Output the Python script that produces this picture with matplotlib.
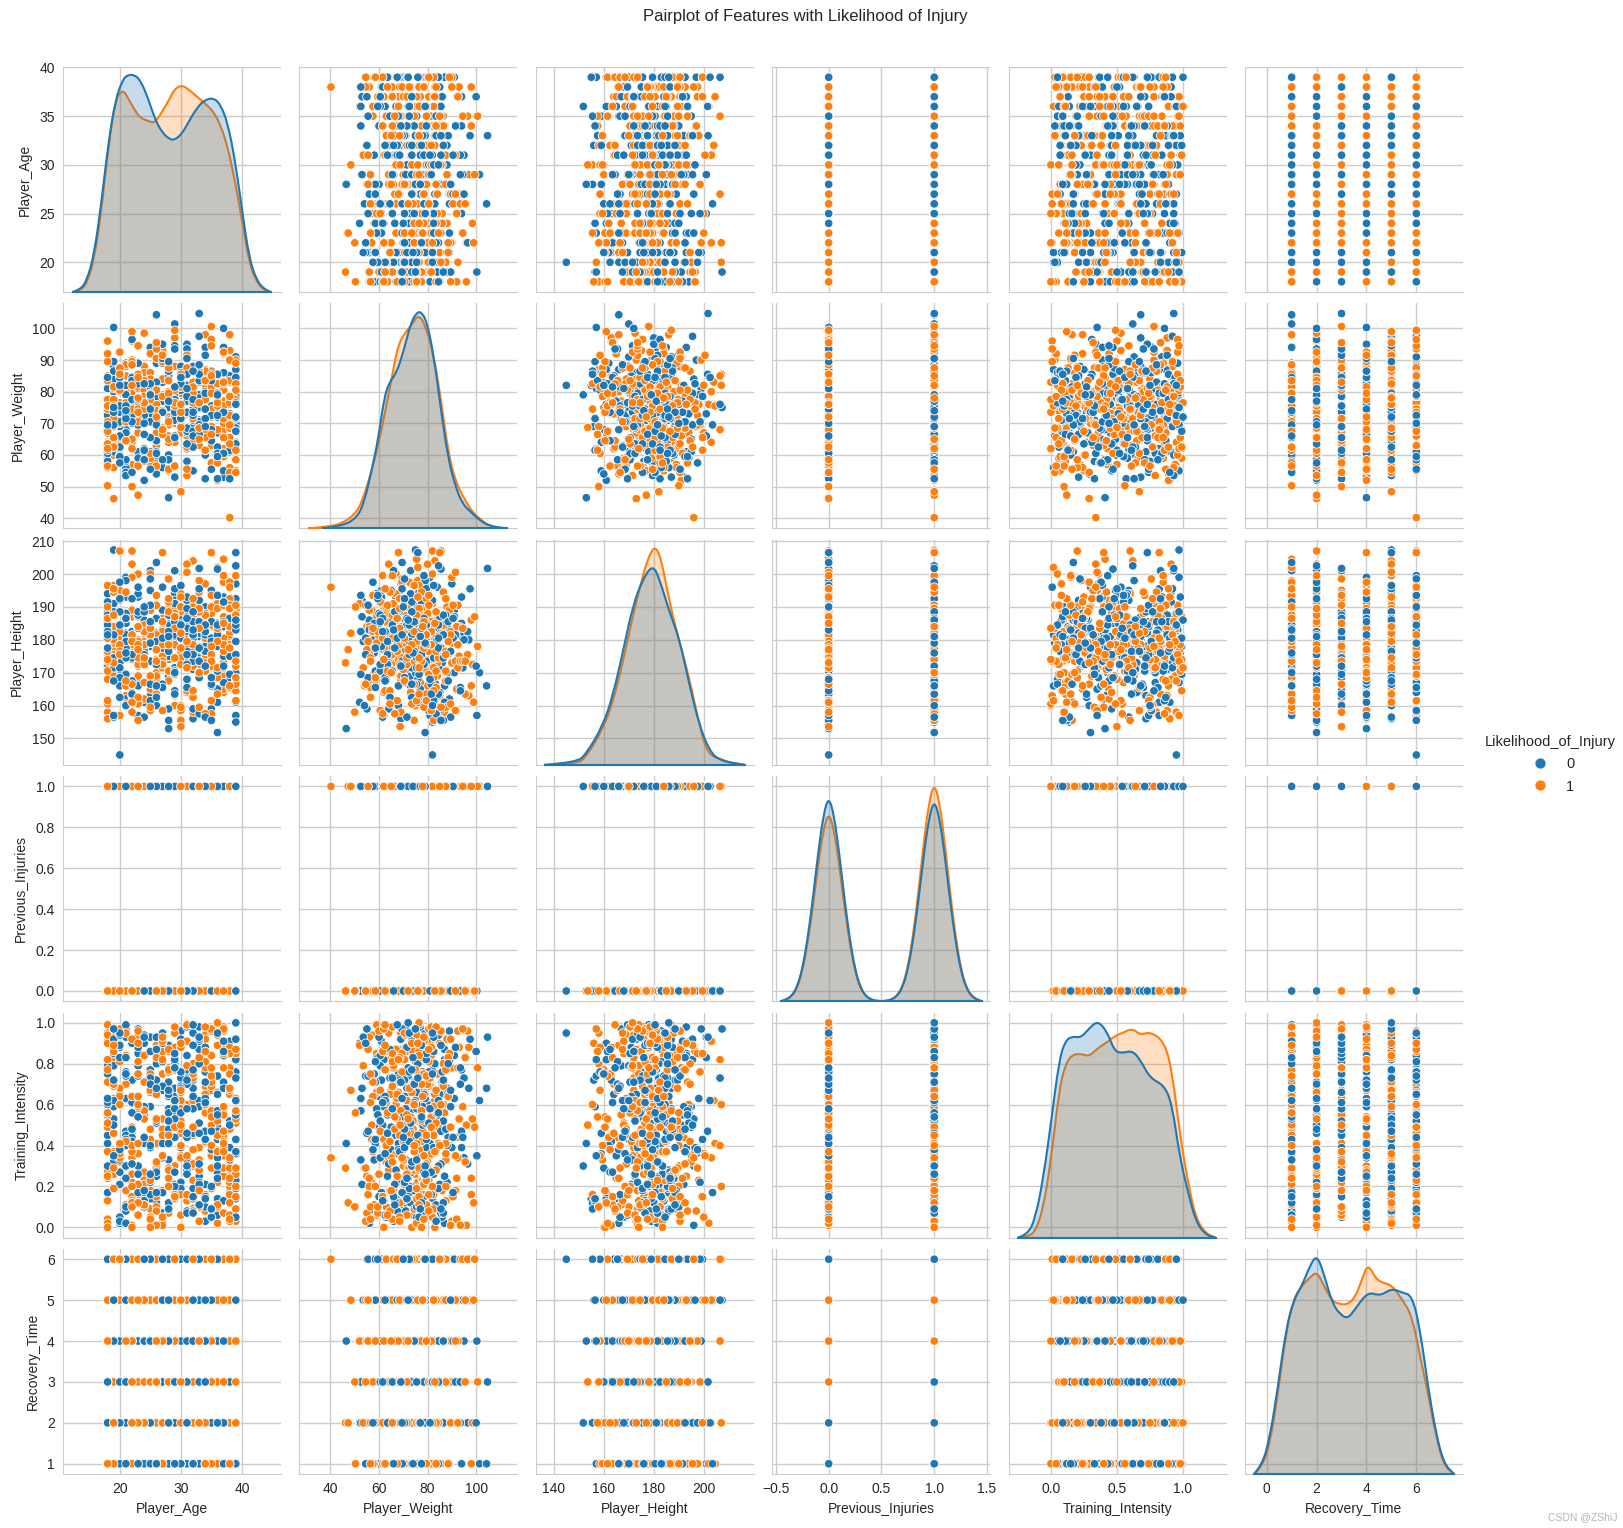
#!/usr/bin/env python
# coding=utf-8

import matplotlib
matplotlib.use('Agg')
import matplotlib.pyplot as plt
from matplotlib.lines import Line2D
from matplotlib.patches import PathPatch
from matplotlib.path import Path

plt.rcParams['font.family'] = ['Liberation Sans', 'DejaVu Sans']
plt.rcParams['text.color'] = '.15'
plt.rcParams['axes.labelcolor'] = '.15'
plt.rcParams['xtick.color'] = '.15'
plt.rcParams['ytick.color'] = '.15'

features = ['Player_Age', 'Player_Weight', 'Player_Height', 'Previous_Injuries', 'Training_Intensity', 'Recovery_Time']

# points, columns of one table
age = [
    24, 37, 32, 28, 25, 38, 24, 36, 29, 21, 33, 18, 26, 39, 34, 19, 35, 30, 27, 22,
    31, 20, 38, 23, 29, 18, 36, 25, 33, 21, 39, 28, 19, 34, 26, 37, 22, 30, 24, 32,
    27, 35, 20, 18, 31, 23, 38, 28, 25, 39, 36, 21, 29, 33, 19, 26, 34, 22, 37, 30,
    18, 24, 32, 20, 27, 35, 38, 23, 39, 31, 28, 21, 25, 36, 19, 33, 29, 18, 22, 34,
    37, 26, 30, 20, 24, 39, 32, 27, 35, 18, 23, 38, 31, 21, 28, 25, 36, 19, 33, 29,
    22, 39, 26, 34, 18, 37, 30, 20, 24, 32, 27, 35, 23, 38, 31, 21, 28, 18, 25, 36,
    19, 33, 29, 39, 22, 34, 26, 37, 30, 20, 18, 24, 32, 27, 35, 23, 38, 31, 21, 28,
    25, 39, 36, 19, 33, 18, 29, 22, 34, 26, 37, 30, 20, 24, 32, 27, 35, 23, 38, 39,
    31, 18, 21, 28, 25, 36, 19, 33, 29, 22, 34, 26, 37, 30, 20, 39, 24, 32, 18, 27,
    35, 23, 38, 31, 21, 28, 25, 36, 19, 33, 29, 22, 18, 34, 26, 37, 30, 39, 20, 24,
    32, 27, 35, 23, 38, 31, 21, 28, 18, 25, 36, 19, 33, 29, 22, 34, 39, 26, 37, 30,
    20, 24, 32, 27, 18, 35, 23, 38, 31, 21, 28, 25, 36, 19, 39, 33, 29, 22, 34, 26,
    37, 18, 30, 20, 24, 32, 27, 35, 23, 38, 31, 21, 39, 28, 25, 36, 19, 33, 18, 29,
    22, 34, 26, 37, 30, 20, 24, 32, 27, 35, 39, 23, 38, 31, 18, 21, 28, 25, 36, 19,
    33, 29, 22, 34, 26, 37, 30, 20, 24, 18, 32, 27, 35, 39, 23, 38, 31, 21, 28, 25,
    30, 19, 36, 22, 33, 27, 39, 20, 35, 24, 18, 31, 37, 21, 28, 34, 25, 38, 23, 29,
    32, 26, 20, 39, 35, 18, 24, 30, 36, 21, 27, 33, 19, 38, 22, 29, 34, 25, 37, 31,
    23, 18, 28, 32, 20, 39, 26, 35, 21, 30, 36, 24, 19, 33, 27, 38, 22, 31, 18, 34,
    25, 29, 37, 20, 23, 39, 32, 26, 35, 19, 28, 21, 36, 30, 24, 18, 33, 27, 38, 22,
    34, 31, 25, 29, 37, 20, 39, 23, 32, 26, 18, 35, 19, 28, 21, 36, 30, 24, 33, 27,
    38, 22, 34, 18, 31, 25, 29, 37, 20, 23, 39, 32, 26, 35, 19, 28, 21, 36, 30, 18,
    24, 33, 27, 38, 22, 34, 31, 25, 39, 29, 37, 20, 23, 32, 18, 26, 35, 19, 28, 21,
    36, 30, 24, 33, 27, 38, 22, 34, 31, 18, 25, 29, 37, 20, 39, 23, 32, 26, 35, 19,
    28, 21, 36, 30, 24, 33, 18, 27, 38, 22, 34, 31, 25, 39, 29, 37, 20, 23, 32, 26,
    35, 19, 18, 28, 21, 36, 30, 24, 33, 27, 38, 22, 39, 34, 31, 25, 29, 37, 20, 23,
    18, 32, 26, 35, 19, 28, 21, 36, 30, 24, 39, 33, 27, 38, 22, 34, 31, 25, 18, 29,
    37, 20, 23, 32, 26, 35, 19, 39, 28, 21, 36, 30, 24, 33, 27, 18, 38, 22, 34, 31,
    25, 29, 37, 20, 23, 39, 32, 26, 35, 19, 28, 18, 21, 36, 30, 24, 33, 27, 38, 22,
    34, 39, 31, 25, 29, 18, 37, 20, 23, 32, 26, 35, 19, 28, 21, 36, 39, 30, 24, 33,
    27, 18, 38, 22, 34, 31, 25, 29, 37, 20, 23, 39, 32, 26, 18, 35, 19, 28, 21, 36,
]
weight = [
    75, 68, 82, 71, 79, 63, 88, 74, 66, 85, 77, 59, 72, 91, 69, 80, 64, 76, 83, 57,
    73, 87, 78, 61, 70, 84, 67, 94, 75, 81, 55, 72, 65, 79, 89, 62, 77, 74, 86, 69,
    58, 80, 71, 96, 66, 83, 76, 60, 73, 90, 78, 68, 53, 85, 75, 63, 81, 70, 92, 79,
    56, 72, 87, 65, 77, 83, 61, 74, 69, 95, 80, 67, 76, 59, 84, 71, 88, 73, 64, 78,
    82, 54, 70, 86, 75, 62, 79, 93, 68, 81, 57, 73, 77, 89, 66, 84, 60, 72, 76, 97,
    65, 80, 71, 87, 58, 74, 83, 69, 78, 63, 91, 75, 67, 85, 79, 56, 72, 81, 61, 76,
    88, 70, 64, 82, 74, 94, 59, 77, 68, 86, 73, 52, 79, 84, 66, 75, 90, 62, 80, 71,
    57, 83, 76, 69, 87, 64, 78, 73, 98, 60, 81, 67, 85, 74, 55, 79, 72, 89, 65, 77,
    82, 70, 58, 75, 92, 68, 84, 63, 76, 80, 71, 54, 86, 74, 66, 78, 61, 83, 73, 95,
    69, 81, 56, 77, 88, 64, 75, 85, 60, 79, 72, 90, 67, 82, 76, 53, 74, 87, 70, 62,
    78, 84, 65, 73, 93, 58, 80, 77, 69, 86, 75, 61, 83, 71, 96, 66, 79, 74, 55, 88,
    63, 76, 81, 68, 85, 72, 59, 78, 91, 73, 65, 82, 77, 56, 70, 87, 75, 62, 80, 67,
    94, 74, 84, 60, 79, 71, 89, 57, 76, 83, 68, 72, 64, 86, 78, 52, 81, 75, 92, 66,
    73, 85, 61, 77, 69, 80, 58, 88, 74, 63, 82, 76, 90, 67, 71, 79, 55, 84, 72, 65,
    78, 97, 75, 60, 83, 70, 86, 62, 77, 73, 81, 56, 68, 89, 74, 64, 80, 76, 85, 59,
    79.5, 70.5, 62.5, 84.5, 76.5, 91.5, 67.5, 73.5, 81.5, 58.5, 77.5, 87.5, 65.5, 74.5, 69.5, 83.5, 60.5, 78.5, 71.5, 94.5,
    75.5, 56.5, 80.5, 68.5, 86.5, 63.5, 72.5, 82.5, 77.5, 54.5, 89.5, 70.5, 76.5, 65.5, 84.5, 73.5, 61.5, 79.5, 92.5, 67.5,
    81.5, 74.5, 58.5, 71.5, 85.5, 78.5, 64.5, 75.5, 88.5, 69.5, 52.5, 80.5, 73.5, 83.5, 66.5, 77.5, 96.5, 62.5, 72.5, 86.5,
    70.5, 79.5, 59.5, 76.5, 82.5, 67.5, 74.5, 90.5, 64.5, 81.5, 55.5, 75.5, 85.5, 71.5, 78.5, 60.5, 87.5, 73.5, 68.5, 83.5,
    77.5, 93.5, 65.5, 79.5, 72.5, 57.5, 84.5, 69.5, 76.5, 80.5, 62.5, 74.5, 89.5, 70.5, 53.5, 82.5, 75.5, 66.5, 86.5, 78.5,
    61.5, 73.5, 91.5, 77.5, 68.5, 81.5, 56.5, 75.5, 84.5, 71.5, 63.5, 79.5, 95.5, 72.5, 65.5, 87.5, 76.5, 59.5, 80.5, 74.5,
    83.5, 69.5, 78.5, 54.5, 88.5, 67.5, 73.5, 82.5, 61.5, 77.5, 92.5, 70.5, 85.5, 64.5, 75.5, 79.5, 57.5, 71.5, 86.5, 76.5,
    60.5, 81.5, 74.5, 97.5, 68.5, 83.5, 72.5, 65.5, 78.5, 89.5, 55.5, 75.5, 80.5, 62.5, 84.5, 70.5, 77.5, 93.5, 66.5, 73.5,
    87.5, 58.5, 79.5, 71.5, 82.5, 76.5, 63.5, 90.5, 69.5, 74.5, 52.5, 85.5, 78.5, 67.5, 81.5, 60.5, 75.5, 94.5, 72.5, 64.5,
    83.5, 77.5, 56.5, 86.5, 70.5, 79.5, 73.5, 61.5, 88.5, 68.5, 76.5, 54.5, 82.5, 74.5, 91.5, 65.5, 80.5, 71.5, 59.5, 84.5,
    75.5, 62.5, 78.5, 96.5, 69.5, 87.5, 72.5, 57.5, 81.5, 66.5, 77.5, 85.5, 73.5, 63.5, 89.5, 79.5, 53.5, 70.5, 83.5, 76.5,
    60.5, 92.5, 74.5, 67.5, 80.5, 55.5, 86.5, 71.5, 78.5, 64.5, 75.5, 82.5, 98.5, 68.5, 58.5, 84.5, 72.5, 77.5, 61.5, 90.5,
    79.5, 65.5, 73.5, 87.5, 56.5, 76.5, 81.5, 69.5, 94.5, 62.5, 83.5, 70.5, 75.5, 59.5, 85.5, 74.5, 66.5, 78.5, 52.5, 88.5,
    71.5, 80.5, 63.5, 77.5, 93.5, 67.5, 82.5, 57.5, 73.5, 86.5, 60.5, 79.5, 75.5, 89.5, 64.5, 72.5, 54.5, 84.5, 76.5, 68.5,
    91.5, 61.5, 78.5, 70.5, 83.5, 55.5, 74.5, 81.5, 65.5, 87.5, 77.5, 58.5, 73.5, 95.5, 69.5, 85.5, 62.5, 79.5, 71.5, 76.5,
]
height = [
    180, 172, 191, 176, 185, 168, 183, 178, 194, 163, 181, 187, 174, 170, 197, 179, 159, 184, 176, 189,
    182, 166, 175, 193, 178, 186, 161, 181, 172, 199, 184, 169, 177, 190, 180, 164, 187, 174, 183, 156,
    179, 195, 171, 182, 188, 167, 176, 185, 201, 173, 180, 160, 192, 178, 184, 170, 186, 175, 165, 183,
    189, 177, 158, 181, 196, 172, 179, 187, 168, 182, 174, 193, 163, 185, 178, 176, 190, 171, 203, 180,
    184, 166, 188, 173, 179, 157, 186, 175, 194, 181, 169, 183, 177, 162, 191, 178, 185, 172, 198, 180,
    174, 187, 167, 182, 176, 192, 160, 184, 179, 171, 189, 175, 200, 181, 164, 186, 178, 173, 195, 183,
    170, 177, 188, 155, 180, 185, 168, 193, 176, 182, 174, 161, 190, 179, 184, 172, 197, 178, 166, 187,
    181, 175, 202, 169, 183, 177, 191, 163, 186, 180, 173, 194, 171, 184, 159, 179, 188, 176, 182, 167,
    192, 174, 185, 178, 165, 181, 196, 170, 187, 177, 183, 160, 175, 190, 179, 172, 186, 204, 168, 180,
    184, 157, 176, 193, 182, 174, 189, 164, 178, 185, 171, 199, 181, 176, 169, 187, 183, 161, 192, 177,
    179, 173, 195, 166, 184, 180, 188, 175, 158, 182, 170, 191, 178, 186, 163, 174, 197, 181, 167, 185,
    177, 190, 172, 183, 156, 179, 194, 176, 187, 169, 180, 200, 165, 184, 175, 182, 160, 189, 178, 173,
    193, 171, 186, 181, 162, 177, 183, 168, 196, 180, 174, 188, 185, 159, 179, 191, 176, 170, 184, 201,
    164, 182, 178, 187, 173, 195, 167, 181, 175, 190, 183, 161, 179, 186, 172, 198, 177, 169, 184, 180,
    192, 163, 176, 188, 182, 171, 185, 157, 178, 194, 174, 183, 166, 189, 180, 175, 203, 168, 187, 179,
    176.5, 188.5, 169.5, 182.5, 194.5, 173.5, 179.5, 162.5, 185.5, 177.5, 191.5, 167.5, 180.5, 174.5, 198.5, 183.5, 158.5, 178.5, 187.5, 171.5,
    181.5, 165.5, 176.5, 192.5, 184.5, 172.5, 179.5, 155.5, 189.5, 175.5, 182.5, 168.5, 196.5, 177.5, 163.5, 185.5, 180.5, 173.5, 190.5, 178.5,
    160.5, 183.5, 170.5, 187.5, 176.5, 199.5, 181.5, 166.5, 179.5, 174.5, 193.5, 184.5, 171.5, 157.5, 186.5, 177.5, 182.5, 164.5, 188.5, 175.5,
    180.5, 195.5, 169.5, 178.5, 183.5, 161.5, 173.5, 190.5, 185.5, 176.5, 167.5, 181.5, 201.5, 172.5, 179.5, 187.5, 159.5, 177.5, 192.5, 174.5,
    184.5, 165.5, 180.5, 170.5, 197.5, 182.5, 175.5, 188.5, 162.5, 178.5, 185.5, 173.5, 156.5, 191.5, 179.5, 168.5, 183.5, 176.5, 194.5, 171.5,
    186.5, 160.5, 181.5, 177.5, 189.5, 166.5, 174.5, 204.5, 184.5, 172.5, 179.5, 192.5, 163.5, 180.5, 175.5, 187.5, 169.5, 182.5, 158.5, 196.5,
    178.5, 173.5, 185.5, 190.5, 167.5, 176.5, 183.5, 161.5, 199.5, 181.5, 171.5, 188.5, 177.5, 164.5, 184.5, 179.5, 193.5, 174.5, 155.5, 186.5,
    170.5, 182.5, 175.5, 195.5, 178.5, 165.5, 180.5, 187.5, 172.5, 160.5, 190.5, 183.5, 176.5, 168.5, 202.5, 179.5, 185.5, 173.5, 157.5, 181.5,
    192.5, 177.5, 163.5, 184.5, 174.5, 188.5, 170.5, 180.5, 197.5, 166.5, 182.5, 176.5, 159.5, 186.5, 178.5, 191.5, 171.5, 183.5, 175.5, 162.5,
    179.5, 194.5, 173.5, 187.5, 167.5, 181.5, 177.5, 156.5, 185.5, 172.5, 189.5, 180.5, 164.5, 176.5, 200.5, 184.5, 169.5, 178.5, 192.5, 174.5,
    161.5, 182.5, 186.5, 175.5, 195.5, 170.5, 179.5, 183.5, 158.5, 188.5, 173.5, 177.5, 166.5, 190.5, 181.5, 184.5, 171.5, 198.5, 176.5, 163.5,
    185.5, 178.5, 155.5, 180.5, 193.5, 168.5, 174.5, 187.5, 182.5, 160.5, 179.5, 196.5, 172.5, 183.5, 165.5, 177.5, 189.5, 175.5, 157.5, 186.5,
    181.5, 170.5, 191.5, 176.5, 162.5, 184.5, 178.5, 203.5, 173.5, 167.5, 188.5, 180.5, 174.5, 193.5, 159.5, 182.5, 177.5, 185.5, 169.5, 179.5,
    156.5, 190.5, 175.5, 183.5, 164.5, 186.5, 171.5, 197.5, 178.5, 181.5, 172.5, 161.5, 187.5, 176.5, 194.5, 184.5, 166.5, 180.5, 174.5, 189.5,
    158.5, 182.5, 177.5, 192.5, 170.5, 179.5, 185.5, 163.5, 199.5, 175.5, 183.5, 168.5, 188.5, 173.5, 181.5, 155.5, 195.5, 178.5, 186.5, 171.5,
]
prev_injuries = [
    0, 1, 1, 0, 1, 0, 0, 1, 0, 1, 1, 0, 1, 0, 1, 1, 0, 0, 1, 0,
    1, 0, 1, 1, 0, 0, 1, 0, 1, 1, 0, 1, 0, 0, 1, 1, 0, 1, 0, 1,
    0, 1, 1, 0, 0, 1, 0, 1, 0, 1, 1, 0, 1, 0, 0, 1, 1, 0, 1, 0,
    1, 0, 0, 1, 1, 0, 1, 1, 0, 0, 1, 0, 1, 0, 1, 1, 0, 1, 0, 0,
    1, 1, 0, 1, 0, 1, 0, 0, 1, 1, 0, 1, 0, 1, 1, 0, 0, 1, 0, 1,
    0, 1, 0, 1, 1, 0, 1, 0, 0, 1, 1, 0, 1, 0, 1, 0, 1, 1, 0, 0,
    1, 0, 1, 1, 0, 1, 0, 0, 1, 0, 1, 1, 0, 1, 0, 1, 1, 0, 0, 1,
    0, 1, 1, 0, 1, 0, 0, 1, 1, 0, 1, 0, 1, 0, 1, 1, 0, 0, 1, 0,
    1, 1, 0, 1, 0, 0, 1, 0, 1, 1, 0, 1, 0, 1, 0, 1, 1, 0, 1, 0,
    0, 1, 0, 1, 1, 0, 1, 1, 0, 0, 1, 0, 1, 0, 1, 0, 1, 1, 0, 1,
    1, 0, 1, 0, 0, 1, 1, 0, 1, 0, 1, 0, 0, 1, 1, 0, 1, 0, 1, 1,
    0, 1, 0, 1, 0, 1, 1, 0, 0, 1, 0, 1, 1, 0, 1, 0, 1, 0, 0, 1,
    1, 0, 1, 1, 0, 0, 1, 0, 1, 0, 1, 1, 0, 1, 0, 1, 0, 1, 1, 0,
    0, 1, 1, 0, 1, 0, 1, 0, 0, 1, 1, 0, 1, 1, 0, 1, 0, 0, 1, 0,
    1, 0, 1, 0, 1, 1, 0, 1, 0, 1, 0, 0, 1, 1, 0, 1, 0, 1, 1, 0,
    1, 1, 0, 0, 1, 0, 1, 1, 0, 1, 0, 0, 1, 0, 1, 1, 0, 1, 0, 1,
    0, 0, 1, 1, 0, 1, 0, 1, 1, 0, 0, 1, 0, 1, 0, 1, 1, 0, 1, 0,
    1, 0, 1, 0, 0, 1, 1, 0, 1, 1, 0, 0, 1, 0, 1, 0, 1, 1, 0, 1,
    0, 1, 1, 0, 1, 0, 0, 1, 0, 1, 1, 0, 0, 1, 1, 0, 1, 0, 1, 0,
    1, 0, 0, 1, 1, 0, 1, 0, 1, 1, 0, 1, 0, 0, 1, 0, 1, 1, 0, 1,
    0, 1, 0, 1, 0, 1, 1, 0, 0, 1, 1, 0, 1, 0, 1, 1, 0, 0, 1, 0,
    1, 1, 0, 0, 1, 0, 1, 0, 1, 1, 0, 1, 0, 1, 0, 0, 1, 1, 0, 1,
    0, 0, 1, 1, 0, 1, 1, 0, 1, 0, 0, 1, 1, 0, 1, 0, 0, 1, 1, 0,
    1, 0, 1, 0, 1, 0, 1, 1, 0, 0, 1, 1, 0, 1, 0, 1, 0, 1, 0, 1,
    1, 0, 0, 1, 0, 1, 1, 0, 1, 0, 1, 0, 1, 1, 0, 0, 1, 0, 1, 0,
    0, 1, 1, 0, 1, 1, 0, 0, 1, 0, 1, 1, 0, 1, 0, 1, 1, 0, 0, 1,
    1, 0, 1, 0, 0, 1, 0, 1, 1, 0, 1, 0, 0, 1, 1, 0, 1, 0, 1, 1,
    0, 1, 0, 1, 1, 0, 1, 0, 0, 1, 0, 1, 1, 0, 0, 1, 1, 0, 1, 0,
    1, 0, 1, 1, 0, 0, 1, 1, 0, 1, 0, 1, 0, 0, 1, 1, 0, 1, 0, 1,
    0, 1, 0, 0, 1, 1, 0, 1, 0, 1, 1, 0, 1, 0, 1, 0, 0, 1, 1, 0,
]
intensity = [
    .12, .87, .45, .33, .68, .05, .92, .27, .56, .74, .18, .99, .41, .63, .08, .81, .36, .52, .95, .22,
    .70, .02, .48, .85, .30, .61, .14, .77, .39, .97, .25, .58, .83, .10, .66, .43, .90, .19, .54, .72,
    .07, .35, .88, .50, .16, .79, .28, .64, .93, .03, .47, .75, .21, .59, .86, .32, .69, .11, .44, .96,
    .24, .55, .80, .38, .01, .67, .91, .15, .51, .73, .29, .84, .42, .06, .62, .98, .20, .57, .34, .76,
    .13, .89, .46, .65, .26, .82, .09, .53, .71, .37, .94, .17, .60, .40, .78, .04, .49, .86, .23, .68,
    .31, .92, .12, .56, .75, .44, .00, .83, .27, .64, .18, .97, .36, .52, .70, .08, .88, .41, .59, .22,
    .79, .33, .95, .14, .61, .47, .85, .25, .73, .05, .54, .90, .30, .67, .19, .81, .39, .99, .11, .58,
    .43, .76, .02, .63, .87, .28, .50, .72, .16, .93, .35, .60, .21, .84, .46, .07, .69, .96, .32, .55,
    .77, .13, .42, .89, .24, .66, .53, .10, .80, .37, .94, .29, .71, .48, .03, .83, .17, .62, .91, .34,
    .57, .74, .20, .98, .40, .86, .09, .65, .26, .51, .78, .15, .45, .92, .31, .68, .06, .82, .38, .59,
    .23, .75, .49, .12, .88, .33, .70, .56, .95, .18, .43, .85, .27, .64, .01, .79, .36, .52, .97, .22,
    .61, .10, .73, .41, .90, .29, .58, .16, .84, .47, .67, .05, .35, .93, .54, .25, .77, .13, .60, .87,
    .39, .71, .19, .96, .44, .08, .81, .50, .30, .65, .99, .24, .55, .76, .14, .89, .37, .62, .04, .83,
    .46, .21, .72, .57, .92, .32, .11, .68, .86, .40, .53, .17, .78, .28, .94, .63, .07, .48, .74, .34,
    .59, .88, .26, .15, .80, .42, .69, .97, .20, .51, .75, .02, .38, .85, .60, .31, .91, .45, .09, .66,
    .35, .72, .06, .49, .91, .18, .63, .27, .84, .41, .55, .13, .98, .30, .76, .03, .67, .22, .88, .44,
    .58, .10, .81, .37, .69, .25, .94, .16, .52, .74, .01, .46, .86, .32, .61, .20, .78, .39, .96, .08,
    .54, .28, .71, .14, .89, .43, .65, .05, .83, .34, .57, .23, .92, .11, .48, .75, .31, .99, .17, .60,
    .40, .82, .07, .68, .26, .53, .95, .15, .73, .36, .87, .02, .47, .62, .21, .79, .33, .90, .12, .56,
    .42, .70, .04, .85, .29, .64, .19, .97, .38, .51, .77, .09, .59, .24, .93, .45, .66, .13, .80, .35,
    .50, .00, .88, .27, .72, .16, .61, .41, .94, .06, .55, .31, .83, .20, .69, .48, .99, .10, .76, .37,
    .57, .22, .91, .03, .44, .65, .30, .86, .15, .53, .78, .39, .96, .08, .60, .25, .71, .46, .12, .84,
    .34, .58, .18, .92, .05, .67, .42, .81, .26, .49, .74, .14, .97, .36, .62, .21, .89, .01, .54, .32,
    .77, .43, .11, .68, .93, .28, .56, .17, .85, .40, .63, .07, .75, .23, .98, .47, .33, .59, .19, .87,
    .38, .70, .04, .52, .95, .24, .66, .13, .80, .45, .29, .90, .09, .61, .35, .73, .16, .55, .83, .41,
    .02, .64, .27, .96, .50, .20, .76, .37, .88, .11, .57, .31, .69, .06, .92, .43, .79, .22, .51, .15,
    .84, .34, .60, .99, .08, .47, .72, .26, .65, .18, .94, .39, .53, .03, .81, .30, .68, .12, .86, .44,
    .23, .58, .91, .36, .75, .05, .49, .17, .97, .62, .28, .82, .10, .55, .40, .71, .21, .93, .33, .64,
    .14, .87, .46, .00, .78, .25, .59, .38, .90, .07, .52, .74, .19, .67, .42, .95, .29, .56, .11, .83,
    .35, .61, .04, .48, .98, .16, .70, .27, .85, .41, .54, .20, .77, .32, .63, .09, .89, .45, .24, 1.00,
]
recovery = [
    4, 2, 6, 1, 5, 3, 2, 4, 6, 1, 5, 2, 3, 4, 1, 6, 2, 5, 4, 3,
    1, 5, 2, 6, 4, 3, 5, 1, 2, 4, 6, 3, 5, 2, 1, 4, 6, 2, 3, 5,
    4, 1, 6, 2, 5, 3, 4, 2, 1, 6, 5, 3, 2, 4, 1, 5, 6, 2, 4, 3,
    1, 5, 2, 4, 6, 3, 1, 5, 2, 4, 3, 6, 1, 2, 5, 4, 6, 3, 2, 1,
    5, 4, 2, 6, 3, 1, 4, 5, 2, 6, 3, 4, 1, 5, 2, 6, 4, 3, 1, 5,
    2, 4, 6, 1, 3, 5, 2, 4, 1, 6, 5, 2, 3, 4, 6, 1, 5, 2, 4, 3,
    6, 1, 5, 2, 4, 3, 2, 6, 1, 5, 4, 2, 3, 6, 5, 1, 4, 2, 5, 3,
    6, 4, 1, 2, 5, 3, 6, 4, 2, 1, 5, 3, 4, 6, 2, 5, 1, 4, 3, 2,
    6, 5, 1, 4, 2, 3, 5, 6, 1, 4, 2, 5, 3, 6, 4, 1, 2, 5, 4, 3,
    2, 6, 1, 5, 4, 3, 2, 6, 5, 1, 4, 2, 3, 5, 6, 4, 1, 2, 5, 3,
    4, 6, 2, 1, 5, 3, 4, 2, 6, 5, 1, 3, 4, 2, 5, 6, 1, 3, 4, 2,
    5, 6, 3, 1, 4, 2, 5, 3, 6, 1, 4, 2, 5, 4, 3, 6, 1, 2, 5, 4,
    3, 1, 6, 2, 4, 5, 3, 1, 2, 6, 4, 5, 2, 3, 1, 4, 6, 5, 2, 3,
    1, 4, 5, 6, 2, 3, 4, 1, 5, 2, 6, 4, 3, 1, 5, 2, 4, 6, 3, 5,
    1, 2, 4, 3, 6, 5, 1, 4, 2, 3, 5, 6, 4, 2, 1, 3, 5, 4, 2, 6,
    5, 3, 1, 6, 2, 4, 3, 5, 1, 2, 6, 4, 2, 5, 3, 1, 4, 6, 2, 5,
    3, 6, 4, 1, 5, 2, 3, 6, 4, 1, 2, 5, 6, 3, 4, 2, 1, 5, 3, 6,
    2, 4, 5, 1, 3, 6, 2, 4, 1, 5, 3, 2, 6, 4, 5, 1, 2, 3, 6, 4,
    1, 5, 3, 2, 4, 6, 1, 2, 5, 3, 4, 6, 2, 1, 5, 4, 3, 2, 6, 1,
    4, 2, 5, 3, 1, 6, 4, 5, 2, 3, 1, 6, 4, 2, 5, 1, 3, 4, 2, 6,
    5, 1, 3, 4, 6, 2, 5, 1, 4, 3, 2, 6, 5, 4, 1, 3, 2, 5, 6, 4,
    3, 2, 1, 5, 4, 6, 3, 2, 5, 1, 4, 6, 2, 3, 5, 4, 1, 6, 2, 5,
    4, 3, 1, 6, 2, 5, 4, 1, 3, 2, 6, 5, 4, 3, 2, 1, 5, 6, 4, 2,
    3, 5, 1, 4, 6, 2, 3, 5, 4, 1, 2, 6, 3, 5, 4, 2, 1, 6, 5, 3,
    2, 4, 1, 6, 5, 3, 2, 4, 1, 5, 6, 3, 2, 4, 5, 1, 6, 3, 4, 2,
    5, 1, 3, 6, 2, 4, 5, 3, 1, 4, 2, 6, 5, 3, 4, 1, 2, 6, 3, 5,
    4, 2, 6, 1, 3, 5, 4, 2, 6, 3, 1, 5, 2, 4, 6, 3, 5, 1, 2, 4,
    6, 3, 1, 5, 2, 4, 6, 1, 3, 5, 2, 4, 3, 6, 1, 5, 4, 2, 3, 1,
    5, 6, 2, 4, 3, 1, 5, 2, 6, 4, 3, 1, 2, 5, 4, 6, 3, 1, 5, 2,
    4, 3, 6, 2, 1, 5, 4, 3, 2, 6, 1, 4, 5, 3, 2, 6, 1, 4, 5, 2,
]
likelihood = [
    0, 1, 1, 0, 1, 0, 1, 0, 0, 1, 0, 1, 1, 0, 1, 0, 0, 1, 0, 1,
    1, 0, 1, 0, 1, 1, 0, 0, 1, 0, 1, 0, 1, 0, 0, 1, 1, 0, 1, 0,
    0, 1, 0, 1, 1, 0, 1, 0, 0, 1, 1, 0, 0, 1, 0, 1, 1, 0, 1, 0,
    1, 0, 1, 0, 0, 1, 0, 1, 1, 0, 1, 0, 0, 1, 1, 0, 1, 0, 1, 0,
    0, 1, 1, 0, 1, 0, 0, 1, 0, 1, 1, 0, 1, 0, 1, 0, 0, 1, 1, 0,
    1, 0, 0, 1, 0, 1, 1, 0, 1, 0, 0, 1, 1, 0, 1, 0, 1, 0, 0, 1,
    0, 1, 1, 0, 1, 0, 1, 1, 0, 0, 1, 0, 1, 0, 1, 1, 0, 0, 1, 0,
    1, 0, 1, 1, 0, 1, 0, 0, 1, 0, 1, 1, 0, 1, 0, 0, 1, 0, 1, 1,
    0, 1, 0, 0, 1, 1, 0, 1, 0, 1, 1, 0, 0, 1, 0, 1, 0, 1, 1, 0,
    1, 0, 1, 0, 0, 1, 1, 0, 1, 0, 0, 1, 0, 1, 1, 0, 1, 0, 1, 0,
    1, 1, 0, 0, 1, 0, 1, 0, 1, 1, 0, 0, 1, 0, 1, 1, 0, 1, 0, 0,
    1, 0, 1, 0, 1, 1, 0, 1, 0, 0, 1, 1, 0, 1, 0, 0, 1, 1, 0, 1,
    0, 1, 0, 1, 1, 0, 0, 1, 0, 1, 1, 0, 1, 0, 0, 1, 1, 0, 1, 0,
    1, 0, 0, 1, 0, 1, 1, 0, 1, 1, 0, 0, 1, 0, 1, 0, 1, 1, 0, 1,
    0, 1, 1, 0, 0, 1, 0, 1, 1, 0, 1, 0, 0, 1, 1, 0, 1, 0, 0, 1,
    1, 0, 0, 1, 0, 1, 1, 0, 1, 0, 0, 1, 1, 0, 1, 0, 1, 1, 0, 0,
    0, 1, 1, 0, 1, 0, 0, 1, 1, 0, 1, 0, 1, 1, 0, 0, 1, 0, 1, 0,
    1, 1, 0, 1, 0, 0, 1, 0, 1, 1, 0, 1, 0, 0, 1, 1, 0, 1, 0, 1,
    0, 0, 1, 1, 0, 1, 0, 1, 0, 1, 1, 0, 0, 1, 1, 0, 1, 0, 1, 0,
    1, 0, 1, 0, 1, 1, 0, 0, 1, 0, 1, 1, 0, 1, 0, 1, 0, 0, 1, 1,
    0, 1, 0, 1, 0, 0, 1, 1, 0, 1, 0, 1, 1, 0, 1, 0, 0, 1, 0, 1,
    1, 0, 1, 1, 0, 1, 0, 0, 1, 0, 1, 0, 1, 1, 0, 0, 1, 1, 0, 1,
    0, 1, 0, 0, 1, 1, 0, 1, 0, 1, 0, 1, 1, 0, 0, 1, 0, 1, 1, 0,
    1, 0, 1, 0, 0, 1, 1, 0, 1, 1, 0, 0, 1, 0, 1, 1, 0, 1, 0, 0,
    0, 1, 1, 0, 1, 0, 1, 0, 0, 1, 1, 0, 1, 0, 1, 0, 1, 1, 0, 1,
    1, 0, 0, 1, 0, 1, 0, 1, 1, 0, 1, 0, 0, 1, 1, 0, 1, 0, 1, 1,
    0, 1, 1, 0, 1, 0, 0, 1, 0, 1, 1, 0, 1, 1, 0, 0, 1, 0, 1, 0,
    1, 0, 0, 1, 1, 0, 1, 0, 1, 0, 1, 1, 0, 0, 1, 1, 0, 1, 0, 1,
    0, 1, 0, 1, 0, 1, 1, 0, 1, 0, 0, 1, 1, 0, 1, 0, 1, 0, 1, 1,
    1, 0, 1, 0, 1, 1, 0, 0, 1, 1, 0, 1, 0, 1, 0, 0, 1, 1, 0, 1,
]

# stragglers that can be matched across panels, last ones fix the colours on the 0/1 vs recovery dots
age_x = [21, 19, 29, 22, 37, 29, 35, 38, 20, 38, 26, 33, 28, 19, 23, 30, 18, 22, 36, 30, 19, 20, 22, 27, 35, 39, 18, 39, 25, 32, 31, 24, 21, 28, 34, 37, 26, 30, 33, 23]
weight_x = [82, 100.3, 101.4, 99, 100, 99.4, 100.6, 98, 82, 40.2, 104.3, 104.7, 46.5, 46.2, 47.3, 48.4, 50.3, 50, 79, 68.7, 75, 85.5, 82, 68, 85, 76, 62, 72, 79, 66, 81, 70, 74, 77, 69, 83, 72, 76, 65, 78]
height_x = [160, 157, 170, 161, 172, 187, 178, 166, 145, 196, 166, 201.7, 153, 173, 177, 182, 190, 158, 151.8, 153.6, 207.3, 207, 207, 206.5, 206.5, 206.5, 174, 186, 179, 183, 168, 190, 176, 181, 172, 185, 177, 193, 170, 184]
prev_x = [1, 0, 1, 0, 1, 0, 1, 1, 0, 1, 1, 1, 0, 0, 1, 1, 0, 0, 1, 0, 1, 0, 1, 0, 1, 0, 1, 1, 1, 0, 0, 0, 1, 1, 1, 0, 0, 0, 1, 1]
intensity_x = [.75, .35, .62, .12, .86, .49, .78, .24, .95, .34, .68, .93, .41, .29, .12, .67, .56, .10, .30, .50, .97, .60, .20, .82, .40, .73, .00, 1.00, .26, .15, .58, .44, .83, .09, .71, .37, .53, .90, .18, .64]
recovery_x = [3, 4, 1, 5, 2, 6, 3, 1, 6, 6, 1, 3, 4, 2, 2, 5, 1, 3, 2, 3, 5, 6, 2, 4, 6, 5, 4, 5, 6, 1, 2, 6, 1, 2, 3, 3, 4, 5, 4, 5]
likelihood_x = [0, 0, 0, 1, 0, 1, 1, 1, 0, 1, 0, 0, 0, 1, 1, 1, 1, 1, 0, 1, 0, 1, 1, 1, 1, 0, 1, 0, 0, 0, 0, 0, 0, 0, 0, 1, 1, 1, 1, 1]

age_grid_0 = [12.3, 13.5, 14.6, 15.8, 17, 18.1, 19.3, 20.5, 21.3, 22.4, 23.4, 24.6, 25.7, 26.9, 28.1, 28.9, 30.1, 31.3, 32.5, 33.9, 35.4, 36.5, 37.7, 38.9, 40.1, 41.2, 42.4, 43.6, 44.7]
age_kde_0 = [0, .01, .05, .167, .40, .657, .856, .945, .965, .965, .94, .864, .772, .71, .68, .675, .70, .757, .813, .855, .862, .833, .749, .58, .35, .15, .052, .014, 0]
age_kde_1 = [0, .006, .037, .144, .366, .64, .86, .90, .864, .81, .772, .761, .75, .80, .855, .90, .92, .90, .871, .84, .80, .741, .642, .489, .305, .129, .044, .009, 0]
weight_grid_0 = [37.1, 45.1, 51, 53.9, 56.9, 59.8, 62, 64.2, 67.1, 70.1, 73, 75.2, 77.1, 79.6, 82.5, 85.5, 88.4, 91.3, 94.3, 97.9, 100.9, 105.2, 112.6]
weight_kde_0 = [0, .011, .049, .117, .254, .406, .574, .65, .688, .787, .909, .955, .965, .924, .772, .528, .315, .193, .11, .072, .041, .011, 0]
weight_grid_1 = [31.2, 39.3, 45.1, 51, 53.9, 56.9, 59.8, 62.7, 65.7, 67.9, 70.8, 73.7, 76.2, 78.9, 82.5, 85.5, 88.4, 91.3, 94.3, 97.9, 100.9, 105.2, 109.6]
weight_kde_1 = [0, .008, .023, .072, .148, .254, .376, .528, .696, .817, .871, .909, .95, .909, .772, .574, .345, .216, .148, .08, .049, .011, 0]
height_grid_0 = [136.3, 148.9, 152.9, 159.6, 163.6, 167.6, 171.6, 175.6, 179.6, 182.3, 186.3, 190.3, 194.3, 198.3, 202.3, 206.3, 216.3]
height_kde_0 = [0, .01, .047, .173, .307, .50, .707, .825, .89, .825, .677, .559, .351, .173, .062, .018, 0]
height_grid_1 = [136.3, 148.9, 152.9, 159.6, 163.6, 167.6, 171.6, 175.6, 177.6, 180.3, 182.9, 186.3, 190.3, 194.3, 198.3, 201.6, 206.3, 210.3, 216.3]
height_kde_1 = [0, .003, .033, .159, .277, .455, .662, .84, .914, .975, .921, .721, .544, .381, .173, .047, .028, .01, 0]
prev_grid = [-.45, -.4, -.35, -.3, -.25, -.2, -.15, -.1, -.05, 0, .05, .1, .15, .2, .25, .3, .35, .4, .45, .5, .55, .6, .65, .7, .75, .8, .85, .9, .95, 1, 1.05, 1.1, 1.15, 1.2, 1.25, 1.3, 1.35, 1.4, 1.45]
prev_kde_0 = [0, .008, .024, .062, .142, .276, .454, .659, .828, .91, .828, .659, .454, .276, .142, .062, .024, .008, .002, 0, .002, .008, .024, .061, .14, .271, .446, .648, .814, .895, .814, .648, .446, .271, .14, .061, .024, .008, 0]
prev_kde_1 = [0, .007, .022, .057, .131, .254, .418, .607, .763, .84, .763, .607, .418, .254, .131, .057, .022, .007, .002, 0, .002, .009, .026, .067, .152, .295, .485, .703, .884, .97, .884, .703, .485, .295, .152, .067, .026, .009, 0]
intensity_grid = [-.25, -.177, -.117, -.057, .003, .063, .108, .16, .228, .29, .356, .43, .482, .542, .617, .677, .751, .856, .916, .976, 1.036, 1.096, 1.171, 1.246]
intensity_kde_0 = [0, .012, .087, .266, .52, .79, .873, .895, .888, .93, .965, .91, .828, .82, .831, .79, .708, .678, .596, .356, .207, .072, .012, 0]
intensity_kde_1 = [0, .004, .027, .132, .356, .656, .768, .813, .817, .805, .843, .87, .895, .91, .93, .90, .915, .873, .746, .461, .251, .087, .019, 0]
recovery_grid_0 = [-.51, -.19, .13, .45, .77, 1.09, 1.41, 1.73, 2.01, 2.3, 2.62, 2.94, 3.26, 3.58, 4.06, 4.54, 5.02, 5.43, 5.83, 6.15, 6.47, 6.79, 7.11, 7.51]
recovery_kde_0 = [0, .037, .164, .388, .642, .776, .836, .925, .975, .888, .761, .709, .69, .739, .81, .791, .825, .806, .794, .642, .388, .179, .045, 0]
recovery_grid_1 = [-.51, -.19, .13, .45, .77, 1.09, 1.41, 1.73, 2.01, 2.3, 2.62, 2.94, 3.26, 3.58, 3.82, 4.06, 4.38, 4.7, 5.02, 5.43, 5.83, 6.15, 6.47, 6.79, 7.11, 7.51]
recovery_kde_1 = [0, .03, .134, .358, .627, .784, .836, .873, .90, .836, .769, .754, .754, .791, .866, .935, .866, .848, .839, .776, .701, .522, .358, .164, .037, 0]

diag_curves = [
    ((age_grid_0, age_kde_0), (age_grid_0, age_kde_1)),
    ((weight_grid_0, weight_kde_0), (weight_grid_1, weight_kde_1)),
    ((height_grid_0, height_kde_0), (height_grid_1, height_kde_1)),
    ((prev_grid, prev_kde_0), (prev_grid, prev_kde_1)),
    ((intensity_grid, intensity_kde_0), (intensity_grid, intensity_kde_1)),
    ((recovery_grid_0, recovery_kde_0), (recovery_grid_1, recovery_kde_1)),
]

limits_x = [(10.7, 46.4), (27.2, 117), (132.8, 220), (-.535, 1.53), (-.32, 1.33), (-.87, 7.87)]
limits_y = [(16.95, 40.05), (36.8, 107.9), (142, 210.4), (-.05, 1.05), (-.05, 1.05), (.75, 6.25)]
ticks_x = [[20, 30, 40], [40, 60, 80, 100], [140, 160, 180, 200], [-.5, 0, .5, 1, 1.5], [0, .5, 1], [0, 2, 4, 6]]
ticks_y = [[20, 25, 30, 35, 40], [40, 50, 60, 70, 80, 90, 100], [150, 160, 170, 180, 190, 200, 210],
           [0, .2, .4, .6, .8, 1], [0, .2, .4, .6, .8, 1], [1, 2, 3, 4, 5, 6]]
labels_x = [['20', '30', '40'], ['40', '60', '80', '100'], ['140', '160', '180', '200'],
            ['\u22120.5', '0.0', '0.5', '1.0', '1.5'], ['0.0', '0.5', '1.0'], ['0', '2', '4', '6']]
labels_y = [['20', '25', '30', '35', '40'], ['40', '50', '60', '70', '80', '90', '100'],
            ['150', '160', '170', '180', '190', '200', '210'],
            ['0.0', '0.2', '0.4', '0.6', '0.8', '1.0'], ['0.0', '0.2', '0.4', '0.6', '0.8', '1.0'],
            ['1', '2', '3', '4', '5', '6']]

colors = ['#1f77b4', '#ff7f0e']
W, H = 1624, 1528
left0, pitch_x, pane_w = 63, 236.4, 218
bottom0, pitch_y, pane_h = 1474, 236.4, 225


def smooth_path(gx, gy):
    # quadratic pieces with the read points as control points
    verts = [(gx[0], gy[0])]
    codes = [Path.MOVETO]
    for i in range(1, len(gx) - 1):
        verts += [(gx[i], gy[i]), ((gx[i] + gx[i + 1]) / 2, (gy[i] + gy[i + 1]) / 2)]
        codes += [Path.CURVE3, Path.CURVE3]
    verts.append((gx[-1], gy[-1]))
    codes.append(Path.LINETO)
    return verts, codes


n = min(len(age), len(weight), len(height), len(prev_injuries), len(intensity), len(recovery), len(likelihood))
table = [
    age[:n] + age_x,
    weight[:n] + weight_x,
    height[:n] + height_x,
    prev_injuries[:n] + prev_x,
    intensity[:n] + intensity_x,
    recovery[:n] + recovery_x,
]
point_colors = [colors[v] for v in likelihood[:n] + likelihood_x]

fig = plt.figure(figsize=(W / 100, H / 100), dpi=100)

for r in range(6):
    for c in range(6):
        x0 = left0 + c * pitch_x
        y0 = bottom0 - (5 - r) * pitch_y - pane_h
        ax = fig.add_axes([x0 / W, 1 - (y0 + pane_h) / H, pane_w / W, pane_h / H])
        ax.set_axisbelow(True)
        ax.grid(True, color='.8', lw=1)
        for s in ['top', 'right']:
            ax.spines[s].set_visible(False)
        for s in ['left', 'bottom']:
            ax.spines[s].set_color('.8')
        ax.tick_params(length=0, labelsize=10, pad=6)
        ax.set_xlim(limits_x[c])
        ax.set_ylim(limits_y[r])
        ax.set_xticks(ticks_x[c], labels_x[c] if r == 5 else [''] * len(ticks_x[c]))
        ax.set_yticks(ticks_y[r], labels_y[r] if c == 0 else [''] * len(ticks_y[r]))
        if r == 5:
            ax.set_xlabel(features[c], fontsize=10, labelpad=4)
        if c == 0:
            ax.set_ylabel(features[r], fontsize=10, labelpad=5)
        if r == c:
            twin = ax.twinx()
            twin.set_ylim(0, 1)
            twin.axis('off')
            twin.set_xlim(limits_x[c])
            for k in [1, 0]:
                gx, gy = diag_curves[c][k]
                verts, codes = smooth_path(gx, gy)
                twin.add_patch(PathPatch(Path(verts + [verts[0]], codes + [Path.CLOSEPOLY]),
                                         fc=colors[k], ec='none', alpha=.25))
                twin.add_patch(PathPatch(Path(verts, codes), fc='none', ec=colors[k], lw=1.5))
                twin.plot([gx[0], gx[-1]], [0, 0], color=colors[k], lw=1.5, clip_on=False)
        else:
            ax.scatter(table[c], table[r], c=point_colors, s=38, edgecolors='w', linewidths=.6, zorder=3)

handles = [Line2D([], [], ls='', marker='o', ms=8, mfc=colors[i], mec='w', mew=.6) for i in range(2)]
fig.legend(handles, ['0', '1'], title='Likelihood_of_Injury', frameon=False, fontsize=10.5, title_fontsize=10.5,
           loc='center', bbox_to_anchor=(1550 / W, 1 - 764.5 / H), labelspacing=.55, handletextpad=.8)

fig.text(805 / W, 1 - 16 / H, 'Pairplot of Features with Likelihood of Injury', ha='center', va='center', fontsize=12)
fig.text(1618 / W, 1 - 1517 / H, 'CSDN @ZShiJ', ha='right', va='center', fontsize=7.5, color='#b5b5b5')

fig.savefig('out.png', dpi=100)
